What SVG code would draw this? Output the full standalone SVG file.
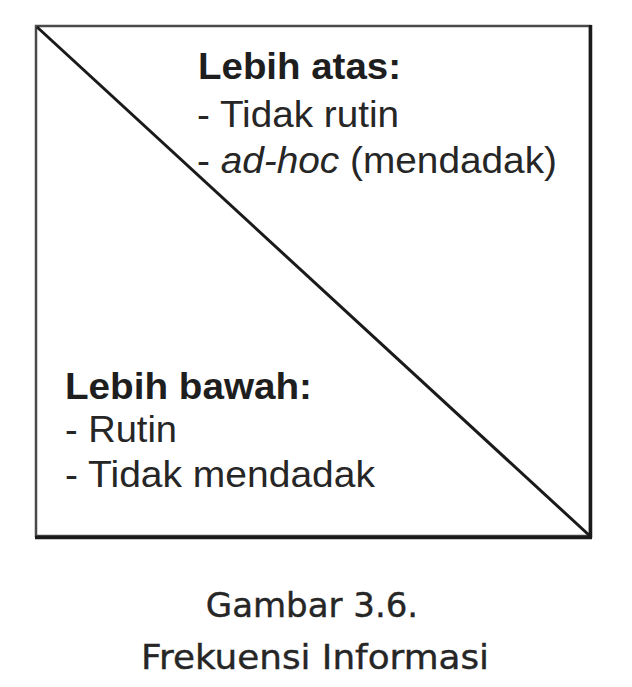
<svg xmlns="http://www.w3.org/2000/svg" width="632" height="687" viewBox="0 0 632 687">
<style>
  .lbl { font-family: "Liberation Sans", Arial, sans-serif; font-size: 36px; fill: #262626; }
  .hd { font-weight: bold; fill: #1e1e1e; }
  .cap { font-family: "DejaVu Sans", Verdana, sans-serif; font-size: 34px; fill: #262626; text-anchor: middle; stroke: #262626; stroke-width: 0.4; }
</style>
<rect width="632" height="687" fill="#ffffff"/>
<g id="frame">
  <rect x="36" y="26" width="554" height="510" fill="#ffffff" stroke="#4a4a4a" stroke-width="2.5"/>
  <path d="M590.5 25 L590.5 538 M35 537.5 L592 537.5" fill="none" stroke="#1a1a1a" stroke-width="3.5"/>
</g>
<g id="connectors">
  <line x1="37" y1="27" x2="590" y2="536" stroke="#1a1a1a" stroke-width="3"/>
</g>
<g id="upper">
  <text class="lbl hd" x="198" y="79" textLength="203" lengthAdjust="spacingAndGlyphs">Lebih atas:</text>
  <text class="lbl" x="197" y="127" textLength="202" lengthAdjust="spacingAndGlyphs">- Tidak rutin</text>
  <text class="lbl" x="197" y="173" textLength="360" lengthAdjust="spacingAndGlyphs">- <tspan font-style="italic">ad-hoc</tspan> (mendadak)</text>
</g>
<g id="lower">
  <text class="lbl hd" x="65" y="399" textLength="247" lengthAdjust="spacingAndGlyphs">Lebih bawah:</text>
  <text class="lbl" x="65" y="442" textLength="112" lengthAdjust="spacingAndGlyphs">- Rutin</text>
  <text class="lbl" x="65" y="487" textLength="310" lengthAdjust="spacingAndGlyphs">- Tidak mendadak</text>
</g>
<g id="caption">
  <text class="cap" x="312" y="617">Gambar 3.6.</text>
  <text class="cap" x="315" y="669" textLength="348" lengthAdjust="spacingAndGlyphs">Frekuensi Informasi</text>
</g>
</svg>
